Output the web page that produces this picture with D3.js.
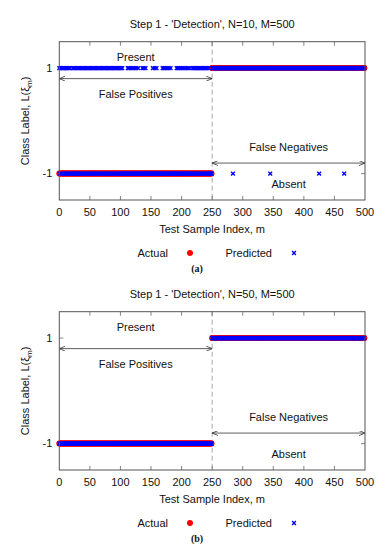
<!DOCTYPE html>
<html>
<head>
<meta charset="utf-8">
<script src="https://cdn.jsdelivr.net/npm/d3@7"></script>
<style>
  html, body { margin: 0; padding: 0; background: #fff; }
  svg { display: block; font-family: "Liberation Sans", Arial, sans-serif; }
</style>
</head>
<body>
<svg id="chart" width="390" height="550"></svg>
<script>
(function () {
'use strict';

// actual class labels, as runs of [first m, last m, label]
var actualRuns = [[0, 249, -1], [250, 499, 1]];

// samples where the predicted label differs from the actual one
var falsePosA = [0, 2, 4, 6, 8, 10, 12, 14, 16, 17, 22, 24, 26, 28, 31, 33, 35, 37, 39, 41, 43, 45,
    47, 49, 51, 53, 55, 57, 59, 61, 63, 65, 67, 69, 71, 73, 75, 77, 79, 81, 83, 85, 87, 89, 91, 93,
    95, 97, 99, 101, 103, 112, 114, 117, 120, 123, 126, 129, 136, 138, 141, 153, 156, 159,
    169, 171, 173, 176, 179, 182, 192, 194, 196, 199, 202, 205, 208, 211, 213, 218, 220, 222, 224,
    226, 228, 230, 232, 234, 236, 238, 240, 242, 244];
var falseNegA = [284, 345, 425, 466];
var falsePosB = [];
var falseNegB = [];

var titles = ["Step 1 - 'Detection', N=10, M=500", "Step 1 - 'Detection', N=50, M=500"];
var captions = ['(a)', '(b)'];
var xTicks = [0, 50, 100, 150, 200, 250, 300, 350, 400, 450, 500];
var yTicks = [-1, 1];

var svg = d3.select('#chart');
var plotL = 59.3, plotR = 365, plotT = 41.7, plotB = 200, panelStep = 270;

var x = d3.scaleLinear().domain([0, 500]).range([plotL, plotR]);
var y = d3.scaleLinear().domain([-1.5, 1.5]).range([plotB, plotT]);

var defs = svg.append('defs');
['start', 'end'].forEach(function (k) {
    defs.append('marker').attr('id', 'head-' + k)
        .attr('viewBox', '0 0 6 5').attr('refX', k === 'end' ? 6 : 0).attr('refY', 2.5)
        .attr('markerWidth', 6).attr('markerHeight', 5).attr('markerUnits', 'userSpaceOnUse')
        .attr('orient', 'auto')
        .append('path')
        .attr('d', k === 'end' ? 'M0,0 L6,2.5 L0,5' : 'M6,0 L0,2.5 L6,5')
        .attr('fill', 'none').attr('stroke', '#333').attr('stroke-width', 0.8);
});

function crossPath(a) {
    return 'M' + -a + ',' + -a + 'L' + a + ',' + a + 'M' + -a + ',' + a + 'L' + a + ',' + -a;
}

function drawPanel(i, falsePos, falseNeg) {
    var g = svg.append('g').attr('transform', 'translate(0,' + i * panelStep + ')');

    var actual = [];
    actualRuns.forEach(function (r) {
        for (var m = r[0]; m <= r[1]; m++) actual.push({ m: m, label: r[2] });
    });
    var flipped = new Set(falsePos.concat(falseNeg));
    var predicted = actual.map(function (d) {
        return { m: d.m, label: flipped.has(d.m) ? -d.label : d.label };
    });

    g.append('text').attr('x', (plotL + plotR) / 2).attr('y', 24).attr('dy', '0.35em')
        .attr('text-anchor', 'middle').attr('font-size', 11).attr('fill', '#111').text(titles[i]);

    // dashed separator at m=250
    g.append('line').attr('x1', x(250)).attr('x2', x(250)).attr('y1', plotT).attr('y2', plotB)
        .attr('stroke', '#aaa').attr('stroke-width', 1).attr('stroke-dasharray', '5,3');

    // ticks (inward, all four sides)
    var tk = g.append('g').attr('stroke', '#666').attr('stroke-width', 0.8);
    xTicks.slice(1, -1).forEach(function (t) {
        tk.append('line').attr('x1', x(t)).attr('x2', x(t)).attr('y1', plotB).attr('y2', plotB - 4);
        tk.append('line').attr('x1', x(t)).attr('x2', x(t)).attr('y1', plotT).attr('y2', plotT + 4);
    });
    yTicks.forEach(function (t) {
        tk.append('line').attr('x1', plotL).attr('x2', plotL + 4).attr('y1', y(t)).attr('y2', y(t));
        tk.append('line').attr('x1', plotR).attr('x2', plotR - 4).attr('y1', y(t)).attr('y2', y(t));
    });

    g.selectAll('.xt').data(xTicks).enter().append('text')
        .attr('x', function (d) { return x(d); }).attr('y', plotB + 12).attr('dy', '0.35em')
        .attr('text-anchor', 'middle').attr('font-size', 11).attr('fill', '#111')
        .text(function (d) { return d; });
    g.selectAll('.yt').data(yTicks).enter().append('text')
        .attr('x', plotL - 7).attr('y', function (d) { return y(d); }).attr('dy', '0.35em')
        .attr('text-anchor', 'end').attr('font-size', 11).attr('fill', '#111')
        .text(function (d) { return d; });

    // axis titles
    g.append('text').attr('x', (plotL + plotR) / 2).attr('y', 229).attr('dy', '0.35em')
        .attr('text-anchor', 'middle').attr('font-size', 11).attr('fill', '#111')
        .text('Test Sample Index, m');
    var yl = g.append('text').attr('transform', 'translate(25,' + (plotT + plotB) / 2 + ') rotate(-90)')
        .attr('dy', '0.35em').attr('text-anchor', 'middle').attr('font-size', 11).attr('fill', '#111');
    yl.append('tspan').text('Class Label, L(ξ');
    yl.append('tspan').attr('font-size', 8).attr('dy', 3).text('m');
    yl.append('tspan').attr('dy', -3).text(')');

    // annotations
    var notes = [
        { m: 125, v: 1.2, t: 'Present' },
        { m: 125, v: 0.5, t: 'False Positives' },
        { m: 375, v: -0.5, t: 'False Negatives' },
        { m: 375, v: -1.2, t: 'Absent' }
    ];
    g.selectAll('.note').data(notes).enter().append('text')
        .attr('x', function (d) { return x(d.m); }).attr('y', function (d) { return y(d.v); })
        .attr('dy', '0.35em').attr('text-anchor', 'middle').attr('font-size', 11).attr('fill', '#111')
        .text(function (d) { return d.t; });
    [[0, 250, 0.8], [250, 500, -0.8]].forEach(function (a) {
        g.append('line').attr('x1', x(a[0])).attr('x2', x(a[1])).attr('y1', y(a[2])).attr('y2', y(a[2]))
            .attr('stroke', '#333').attr('stroke-width', 0.8)
            .attr('marker-start', 'url(#head-start)').attr('marker-end', 'url(#head-end)');
    });

    // actual and predicted labels
    g.append('g').selectAll('circle').data(actual).enter().append('circle')
        .attr('cx', function (d) { return x(d.m); }).attr('cy', function (d) { return y(d.label); })
        .attr('r', 3).attr('fill', '#f00');
    g.append('g').selectAll('path').data(predicted).enter().append('path')
        .attr('transform', function (d) { return 'translate(' + x(d.m) + ',' + y(d.label) + ')'; })
        .attr('d', crossPath(1.9)).attr('stroke', '#00f').attr('stroke-width', 1.4).attr('fill', 'none');

    // frame
    g.append('rect').attr('x', plotL).attr('y', plotT).attr('width', plotR - plotL).attr('height', plotB - plotT)
        .attr('fill', 'none').attr('stroke', '#555').attr('stroke-width', 1);

    // legend
    var ly = 253;
    g.append('text').attr('x', 168).attr('y', ly).attr('dy', '0.35em').attr('text-anchor', 'end')
        .attr('font-size', 11).attr('fill', '#111').text('Actual');
    g.append('circle').attr('cx', 190).attr('cy', ly).attr('r', 3).attr('fill', '#f00');
    g.append('text').attr('x', 272).attr('y', ly).attr('dy', '0.35em').attr('text-anchor', 'end')
        .attr('font-size', 11).attr('fill', '#111').text('Predicted');
    g.append('path').attr('transform', 'translate(294,' + ly + ')').attr('d', crossPath(1.9))
        .attr('stroke', '#00f').attr('stroke-width', 1.4).attr('fill', 'none');

    g.append('text').attr('x', 197).attr('y', 268).attr('dy', '0.35em').attr('text-anchor', 'middle')
        .attr('font-family', '"Liberation Serif", "Times New Roman", serif').attr('font-weight', 'bold')
        .attr('font-size', 10).attr('fill', '#111').text(captions[i]);
}

drawPanel(0, falsePosA, falseNegA);
drawPanel(1, falsePosB, falseNegB);
})();
</script>
</body>
</html>
